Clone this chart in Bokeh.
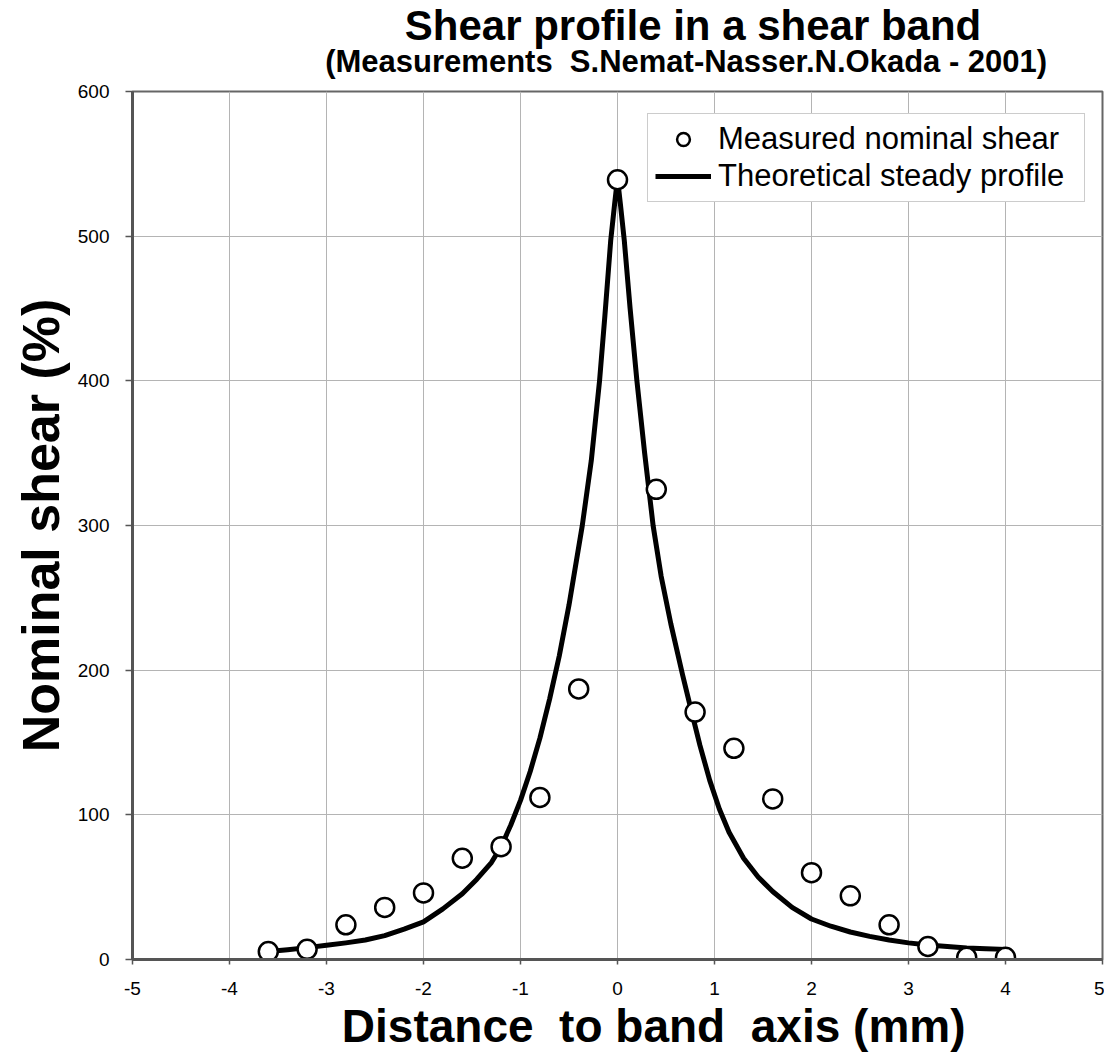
from bokeh.plotting import figure
from bokeh.models import Range1d, FixedTicker, Title, Legend, LegendItem, Label
from bokeh.layouts import column
from bokeh.embed import file_html
from bokeh.resources import INLINE

# Measured nominal shear (%) vs distance to band axis (mm)
meas_x = [-3.6, -3.2, -2.8, -2.4, -2.0, -1.6, -1.2, -0.8, -0.4, 0.0,
          0.4, 0.8, 1.2, 1.6, 2.0, 2.4, 2.8, 3.2, 3.6, 4.0]
meas_y = [5.5, 7, 24, 36, 46, 70, 78, 112, 187, 539,
          325, 171, 146, 111, 60, 44, 24, 9, 1.5, 1.5]

# Theoretical steady profile
curve_x = [-3.6, -3.4, -3.2, -3.0, -2.8, -2.6, -2.4, -2.2, -2.0, -1.8, -1.6,
           -1.45, -1.3, -1.2, -1.1, -1.0, -0.9, -0.8, -0.7, -0.6, -0.5, -0.363,
           -0.27, -0.185, -0.13, -0.07, -0.03, 0.0,
           0.03, 0.07, 0.13, 0.2, 0.28, 0.367, 0.45, 0.55, 0.67, 0.75, 0.85,
           0.95, 1.05, 1.15, 1.3, 1.45, 1.6, 1.8, 2.0, 2.2, 2.4, 2.6, 2.8,
           3.0, 3.2, 3.4, 3.6, 3.8, 4.0]
curve_y = [5.5, 6.8, 8.2, 9.8, 11.5, 13.5, 16.5, 21, 26, 35, 45.5,
           55.5, 67, 78, 93, 110, 130, 153, 180, 210, 245, 300,
           345, 400, 445, 497, 522, 540,
           522, 497, 450, 400, 350, 300, 265, 232, 197, 175, 148,
           124, 104, 88, 70, 57, 47, 36, 28, 23, 19, 16, 13.5,
           11.5, 10, 9, 8, 7.5, 7]

x_ticks = [-5, -4, -3, -2, -1, 0, 1, 2, 3, 4, 5]
y_ticks = [0, 100, 200, 300, 400, 500, 600]
x_tick_labels = ["-5", "-4", "-3", "-2", "-1", "0", "1", "2", "3", "4", "5"]

NB = "\u00a0"
title_text = "Shear profile in a shear band"
subtitle_text = "(Measurements " + NB + "S.Nemat-Nasser.N.Okada - 2001)"
x_label = "Distance " + NB + "to band " + NB + "axis (mm)"
y_label = "Nominal shear (%)"
legend_labels = ["Measured nominal shear", "Theoretical steady profile"]

FONT = "Liberation Sans"
W = 1104
TITLE_H = 79

# ---- title strip ----
pt = figure(width=W, height=TITLE_H, output_backend="svg", toolbar_location=None,
            x_range=Range1d(0, W), y_range=Range1d(0, TITLE_H),
            x_axis_type=None, y_axis_type=None, min_border=0)
pt.title.visible = False
pt.outline_line_color = None
pt.grid.visible = False
pt.background_fill_color = "white"
pt.border_fill_color = "white"
pt.add_layout(Label(x=966, y=TITLE_H - 48, text=title_text, text_align="right",
                    text_baseline="bottom", text_font=FONT,
                    text_font_style="bold", text_font_size="42px",
                    text_color="black"))
pt.add_layout(Label(x=1041, y=TITLE_H - 78.5, text=subtitle_text, text_align="right",
                    text_baseline="bottom", text_font=FONT,
                    text_font_style="bold", text_font_size="31px",
                    text_color="black"))

# ---- main chart ----
p = figure(width=W, height=1053 - TITLE_H, output_backend="svg", toolbar_location=None,
           x_range=Range1d(-5, 5), y_range=Range1d(0, 600),
           min_border_left=132, min_border_right=2, min_border_top=91 - TITLE_H,
           min_border_bottom=94)
p.title.visible = False
p.background_fill_color = "white"
p.border_fill_color = "white"
p.outline_line_color = "#666666"
p.outline_line_width = 2

line = p.line(curve_x, curve_y, line_width=5, line_color="black",
              line_join="round")
pts = p.scatter(meas_x, meas_y, marker="circle", size=19, fill_color="white",
                line_color="black", line_width=2.5)

# grids
p.xgrid.ticker = FixedTicker(ticks=x_ticks)
p.ygrid.ticker = FixedTicker(ticks=y_ticks)
for g in (p.xgrid, p.ygrid):
    g.grid_line_color = "#b4b4b4"
    g.grid_line_width = 1

# axes
p.xaxis.ticker = FixedTicker(ticks=x_ticks)
p.yaxis.ticker = FixedTicker(ticks=y_ticks)
p.xaxis.major_label_overrides = {t: s for t, s in zip(x_ticks, x_tick_labels)}
for ax in (p.xaxis, p.yaxis):
    ax.axis_line_width = 3
    ax.axis_line_color = "#555555"
    ax.major_tick_line_color = "#555555"
    ax.major_tick_line_width = 1.5
    ax.major_tick_in = 0
    ax.minor_tick_line_color = None
    ax.major_label_text_font = FONT
    ax.major_label_text_font_size = "19px"
    ax.major_label_text_color = "black"
p.xaxis.major_tick_out = 5
p.yaxis.major_tick_out = 7
p.xaxis.major_label_standoff = 17
p.yaxis.major_label_standoff = 16

p.yaxis.axis_label = y_label
p.yaxis.axis_label_text_font = FONT
p.yaxis.axis_label_text_font_style = "bold"
p.yaxis.axis_label_text_font_size = "52px"
p.yaxis.axis_label_text_color = "black"
p.yaxis.axis_label_standoff = 5

# x label as a title below, shifted like the reference
p.add_layout(Title(text=x_label, align="right", offset=137, text_font=FONT,
                   text_font_style="bold", text_font_size="46px",
                   text_color="black", standoff=0), "below")

legend = Legend(items=[LegendItem(label=legend_labels[0], renderers=[pts]),
                       LegendItem(label=legend_labels[1], renderers=[line])],
                location=(515, 757))
legend.label_text_font = FONT
legend.label_text_font_size = "31px"
legend.label_text_color = "black"
legend.glyph_width = 56
legend.glyph_height = 32
legend.label_height = 32
legend.label_width = 359
legend.label_standoff = 7
legend.spacing = 1
legend.padding = 7
legend.margin = 0
legend.border_line_color = "#999999"
legend.border_line_width = 1
legend.background_fill_color = "white"
legend.background_fill_alpha = 1
p.add_layout(legend)

layout = column(pt, p, spacing=0)
open("out.html", "w").write(file_html(layout, INLINE))
